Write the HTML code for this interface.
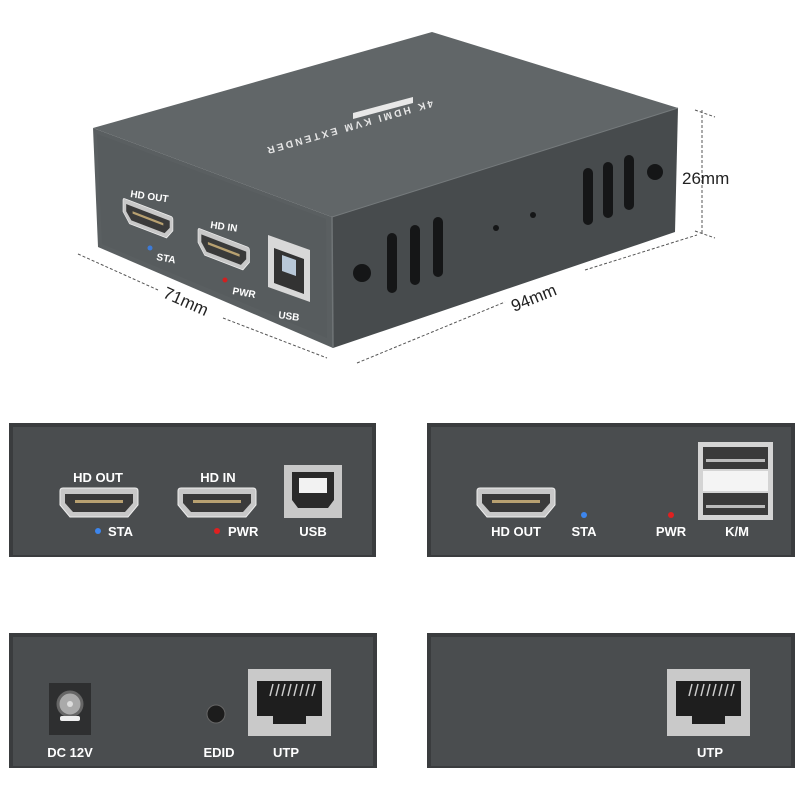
<!DOCTYPE html>
<html><head><meta charset="utf-8"><style>
html,body{margin:0;padding:0;background:#fff;}
svg{display:block}
text{font-family:"Liberation Sans",sans-serif;font-weight:bold;fill:#fff}
</style></head><body>
<svg width="800" height="800" viewBox="0 0 800 800" xmlns="http://www.w3.org/2000/svg">
<defs>
<g id="hdmi">
<path d="M0,3 Q0,0 3,0 H75 Q78,0 78,3 V17 L68,29 H10 L0,17 Z" fill="#c8c8c8" stroke="#eee" stroke-width="1"/>
<path d="M5,6 H73 V15 L65,24 H13 L5,15 Z" fill="#3a3a3a"/>
<rect x="15" y="12" width="48" height="3" fill="#b8a070"/>
</g>
<g id="rj">
<rect x="0" y="0" width="83" height="67" fill="#c9c9c9"/>
<path d="M9,12 H74 V47 H58 V55 H25 V47 H9 Z" fill="#1e1e1e"/>
<g stroke="#ccc" stroke-width="1.5"><line x1="22" y1="27" x2="25" y2="15"/><line x1="28" y1="27" x2="31" y2="15"/><line x1="34" y1="27" x2="37" y2="15"/><line x1="40" y1="27" x2="43" y2="15"/><line x1="46" y1="27" x2="49" y2="15"/><line x1="52" y1="27" x2="55" y2="15"/><line x1="58" y1="27" x2="61" y2="15"/><line x1="64" y1="27" x2="67" y2="15"/></g>
</g>
</defs>

<!-- 3D box -->
<polygon points="93,128 432,32 678,108 332,217" fill="#616668"/>
<polygon points="93,128 332,217 333,348 98,247" fill="#5a5f61"/>
<polygon points="97,134 326,219 327,338 102,244" fill="#575c5e"/>
<polygon points="332,217 678,108 675,232 333,348" fill="#474b4d"/>
<line x1="332" y1="217" x2="333" y2="348" stroke="#6f7476" stroke-width="1.5"/>
<line x1="332" y1="217" x2="678" y2="108" stroke="#757a7c" stroke-width="1"/>
<polygon points="353,113 413,97 413,103 353,119" fill="#e8e8e8"/>
<text x="432" y="100" font-size="10" textLength="172" transform="rotate(164 432 100)" style="fill:#e6e6e6">4K HDMI KVM EXTENDER</text>
<!-- front details -->
<g transform="translate(123,198) skewY(21) scale(0.64,0.8)"><use href="#hdmi"/></g>
<text x="130" y="197" font-size="10" transform="rotate(8 130 197)">HD OUT</text>
<circle cx="150" cy="248" r="2.5" fill="#3d7bd8"/><text x="156" y="260" font-size="10" transform="rotate(10 156 260)">STA</text>
<g transform="translate(198,228) skewY(21) scale(0.66,0.85)"><use href="#hdmi"/></g>
<text x="210" y="228" font-size="10" transform="rotate(8 210 228)">HD IN</text>
<circle cx="225" cy="280" r="2.5" fill="#d02020"/><text x="232" y="294" font-size="10" transform="rotate(10 232 294)">PWR</text>
<polygon points="268,235 310,250 310,302 268,287" fill="#d8d8d8"/>
<polygon points="274,248 304,259 304,294 274,283" fill="#333"/>
<polygon points="282,255 296,260 296,276 282,271" fill="#b8c8d8"/>
<text x="278" y="318" font-size="10" transform="rotate(8 278 318)">USB</text>
<!-- side vents -->
<g fill="#151617">
<rect x="387" y="233" width="10" height="60" rx="5"/>
<rect x="410" y="225" width="10" height="60" rx="5"/>
<rect x="433" y="217" width="10" height="60" rx="5"/>
<rect x="583" y="168" width="10" height="57" rx="5"/>
<rect x="603" y="162" width="10" height="56" rx="5"/>
<rect x="624" y="155" width="10" height="55" rx="5"/>
<circle cx="496" cy="228" r="3"/><circle cx="533" cy="215" r="3"/>
<circle cx="362" cy="273" r="9"/><circle cx="655" cy="172" r="8"/>
</g>
<!-- dimension lines -->
<g stroke="#555" stroke-width="1" stroke-dasharray="3,2" fill="none">
<line x1="78" y1="254" x2="158" y2="290"/><line x1="223" y1="318" x2="327" y2="358"/>
<line x1="357" y1="363" x2="505" y2="302"/><line x1="585" y1="270" x2="697" y2="235"/>
<line x1="702" y1="110" x2="702" y2="233"/><line x1="695" y1="110" x2="715" y2="117"/><line x1="695" y1="231" x2="715" y2="238"/>
</g>
<text x="162" y="297" font-size="17" style="fill:#222;font-weight:normal" transform="rotate(24 162 297)">71mm</text>
<text x="514" y="312" font-size="17" style="fill:#222;font-weight:normal" transform="rotate(-22 514 312)">94mm</text>
<text x="682" y="184" font-size="17" style="fill:#222;font-weight:normal">26mm</text>

<!-- panel 1 -->
<rect x="9" y="423" width="367" height="134" fill="#3a3c3e"/>
<rect x="13" y="427" width="359" height="128" fill="#4a4d4f"/>
<use href="#hdmi" x="60" y="488"/>
<use href="#hdmi" x="178" y="488"/>
<text x="98" y="482" font-size="13" text-anchor="middle">HD OUT</text>
<text x="218" y="482" font-size="13" text-anchor="middle">HD IN</text>
<circle cx="98" cy="531" r="3" fill="#3d86ee"/><text x="108" y="536" font-size="13">STA</text>
<circle cx="217" cy="531" r="3" fill="#e02020"/><text x="228" y="536" font-size="13">PWR</text>
<rect x="284" y="465" width="58" height="53" fill="#c8c8c8"/>
<path d="M292,472 H334 V500 L328,508 H298 L292,500 Z" fill="#2a2a2a"/>
<rect x="299" y="478" width="28" height="15" fill="#f2f2f2"/>
<text x="313" y="536" font-size="13" text-anchor="middle">USB</text>

<!-- panel 2 -->
<rect x="427" y="423" width="368" height="134" fill="#3a3c3e"/>
<rect x="431" y="427" width="360" height="128" fill="#4a4d4f"/>
<use href="#hdmi" x="477" y="488"/>
<text x="516" y="536" font-size="13" text-anchor="middle">HD OUT</text>
<circle cx="584" cy="515" r="3" fill="#3d86ee"/><text x="584" y="536" font-size="13" text-anchor="middle">STA</text>
<circle cx="671" cy="515" r="3" fill="#e02020"/><text x="671" y="536" font-size="13" text-anchor="middle">PWR</text>
<rect x="698" y="442" width="75" height="78" fill="#d4d4d4"/>
<rect x="703" y="447" width="65" height="22" fill="#3a3a3a"/><rect x="706" y="459" width="59" height="3" fill="#bbb"/>
<rect x="703" y="471" width="65" height="20" fill="#f4f4f4"/>
<rect x="703" y="493" width="65" height="22" fill="#3a3a3a"/><rect x="706" y="505" width="59" height="3" fill="#bbb"/>
<text x="737" y="536" font-size="13" text-anchor="middle">K/M</text>

<!-- panel 3 -->
<rect x="9" y="633" width="368" height="135" fill="#3a3c3e"/>
<rect x="13" y="637" width="360" height="129" fill="#4a4d4f"/>
<rect x="49" y="683" width="42" height="52" fill="#2e2f30"/>
<circle cx="70" cy="704" r="12" fill="#aaa" stroke="#666" stroke-width="3"/><circle cx="70" cy="704" r="3" fill="#ddd"/>
<rect x="60" y="716" width="20" height="5" rx="2" fill="#eee"/>
<text x="70" y="757" font-size="13" text-anchor="middle">DC 12V</text>
<circle cx="216" cy="714" r="9" fill="#1c1c1c" stroke="#666" stroke-width="1"/>
<text x="219" y="757" font-size="13" text-anchor="middle">EDID</text>
<use href="#rj" x="248" y="669"/>
<text x="286" y="757" font-size="13" text-anchor="middle">UTP</text>

<!-- panel 4 -->
<rect x="427" y="633" width="368" height="135" fill="#3a3c3e"/>
<rect x="431" y="637" width="360" height="129" fill="#4a4d4f"/>
<use href="#rj" x="667" y="669"/>
<text x="710" y="757" font-size="13" text-anchor="middle">UTP</text>
</svg>
</body></html>
